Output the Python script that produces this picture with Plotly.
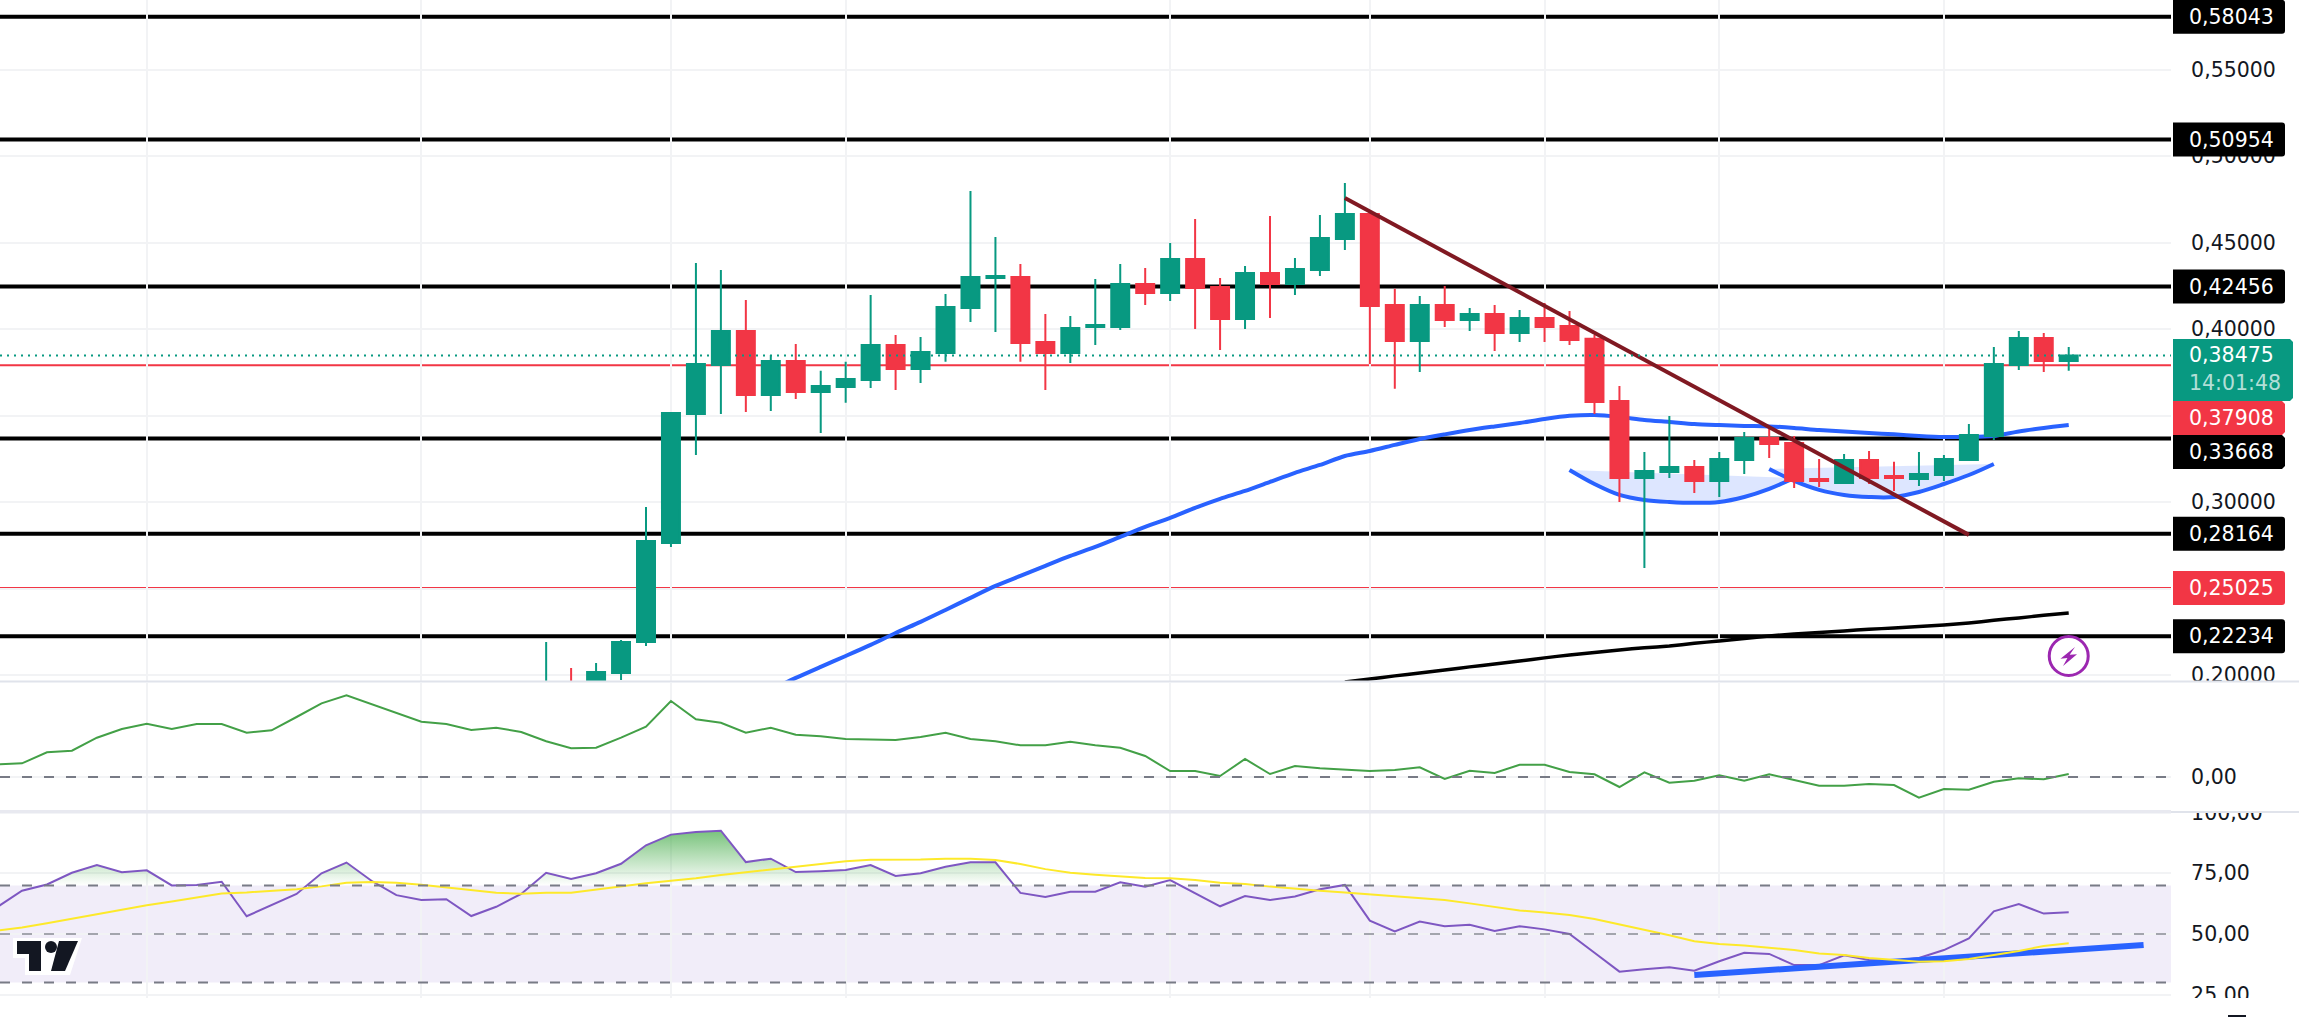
import plotly.graph_objects as go

# ---------- data ----------
first_candle = 21
opens = [.185,.195,.190,.2012,.2191,.2763,.3509,.3792,.3989,.3619,.3815,.3636,.3665,.3705,.3908,.3769,.3861,.4122,.4295,.4301,.3925,.3861,.4012,.4012,.4260,.4208,.4405,.4243,.4058,.4324,.4260,.4341,.4520,.4665,.4139,.3931,.4139,.4052,.4087,.3977,.4064,.4018,.3943,.3584,.3139,.3174,.3202,.3122,.3243,.3370,.3341,.3133,.3110,.3243,.3151,.3133,.3156,.3243,.3382,.3792,.3948,.3815]
highs = [.2191,.2041,.2070,.2203,.2971,.3515,.4382,.4341,.4168,.3850,.3914,.3758,.3810,.4197,.3966,.3954,.4202,.4798,.4532,.4376,.4087,.4075,.4289,.4376,.4353,.4497,.4636,.4295,.4364,.4653,.4411,.4659,.4844,.4665,.4232,.4191,.4249,.4122,.4139,.4110,.4151,.4104,.3966,.3671,.3289,.3497,.3243,.3289,.3405,.3422,.3382,.3249,.3278,.3295,.3232,.3289,.3272,.3451,.3896,.3988,.3977,.3896]
lows = [.180,.186,.188,.1971,.2168,.2740,.3272,.3509,.3520,.3526,.3596,.3399,.3573,.3659,.3648,.3688,.3810,.4041,.3983,.3810,.3648,.3804,.3908,.3994,.4139,.4162,.4000,.3879,.4000,.4064,.4197,.4307,.4457,.3798,.3654,.3752,.4012,.3989,.3873,.3925,.3925,.3908,.3509,.3000,.2619,.3139,.3052,.3029,.3162,.3254,.3081,.3087,.3110,.3104,.3064,.3093,.3122,.3243,.3359,.3763,.3752,.3758]
closes = [.192,.190,.2018,.2191,.2775,.3515,.3798,.3989,.3619,.3815,.3636,.3671,.3711,.3908,.3769,.3867,.4127,.4301,.4307,.3919,.3861,.4006,.4023,.4260,.4208,.4405,.4237,.4058,.4324,.4260,.4347,.4526,.4665,.4133,.3931,.4139,.4052,.4087,.3977,.4064,.4012,.3937,.3578,.3139,.3179,.3202,.3122,.3249,.3370,.3335,.3122,.3122,.3243,.3139,.3139,.3162,.3249,.3388,.3798,.3948,.3815,.38475]

ma_blue_first = 30
ma_blue = [.1914,.1983,.2047,.2110,.2174,.2243,.2307,.2376,.2446,.2515,.2573,.2631,.2688,.2740,.2798,.2856,.2908,.2966,.3018,.3064,.3116,.3168,.3214,.3266,.3295,.3330,.3364,.3391,.3416,.3437,.3457,.3480,.3498,.3503,.3492,.3474,.3463,.3451,.3445,.3440,.3437,.3428,.3416,.3408,.3399,.3391,.3382,.3376,.3376,.3382,.3408,.3428,.3445]
ma_black_first = 53
ma_black = [.1960,.1977,.1995,.2012,.2029,.2047,.2064,.2081,.2099,.2116,.2130,.2145,.2157,.2168,.2183,.2197,.2211,.2226,.2237,.2246,.2255,.2264,.2272,.2280,.2289,.2301,.2316,.2330,.2345,.2359]

arc1_first = 62
arc1 = [.3185,.3104,.3041,.3012,.3000,.2995,.3000,.3029,.3076,.3139]
arc2_first = 70
arc2 = [.3191,.3122,.3070,.3041,.3029,.3029,.3058,.3104,.3156,.3220]
trend_x = [53, 78]
trend_y = [.4757, .2810]

levels_black = [.58043, .50954, .42456, .33668, .28164, .22234]
levels_red = [.37908, .25025]
last_price = .38475
price_ticks = [.55, .50, .45, .40, .35, .30, .25, .20]
price_tick_text = ["0,55000", "0,50000", "0,45000", "0,40000", "0,35000", "0,30000", "0,25000", "0,20000"]
time_grid = [5, 16, 26, 33, 46, 54, 61, 68, 77]

osc_first = -1
osc = [.127,.137,.247,.263,.393,.48,.533,.48,.53,.53,.443,.467,.6,.737,.817,.73,.637,.553,.53,.47,.493,.45,.357,.287,.293,.393,.503,.76,.577,.543,.443,.493,.423,
       .407,.38,.377,.37,.4,.443,.38,.357,.317,.317,.353,.317,.293,.21,.06,.06,.01,.18,.03,.11,.087,.077,.06,.07,.097,-.02,.063,.04,.123,.123,.05,.027,
       -.1,.047,-.057,-.037,.017,-.037,.027,-.03,-.087,-.087,-.07,-.08,-.207,-.12,-.127,-.047,-.013,-.023,.03]
rsi = [61.0,67.8,70.4,75.2,78.4,75.4,76.2,70.0,70.2,71.5,57.3,61.9,66.5,75.0,79.4,71.9,66.0,64.0,64.3,57.4,61.2,66.5,75.2,72.6,75.0,78.9,86.5,90.9,92.0,92.5,79.6,81.0,75.5,
       75.8,76.3,78.4,73.9,75.0,77.7,79.5,79.5,66.9,65.2,67.4,67.4,71.3,69.5,72.2,66.7,61.4,65.6,64.0,65.4,68.4,70.2,55.5,51.1,55.1,53.2,53.8,51.2,53.2,51.9,50.0,42.3,
       34.5,35.5,36.3,34.9,38.8,42.3,41.8,37.2,37.2,41.2,39.3,39.0,40.1,43.4,48.2,59.3,62.3,58.4,58.9]
rsi_ma = [51.4,52.7,54.4,56.3,58.1,59.9,61.8,63.4,65.0,66.7,67.1,67.6,68.4,69.6,71.1,71.4,71.1,70.3,69.3,68.0,67.0,66.6,67.0,67.0,68.4,69.5,70.9,71.9,72.9,74.3,75.4,76.6,77.4,
          78.7,79.9,80.6,80.5,80.7,81.0,81.0,80.5,78.8,76.7,75.2,74.4,73.6,73.0,72.9,72.2,71.1,70.6,69.5,68.5,67.8,67.1,66.3,65.6,65.0,64.0,62.6,61.1,59.7,58.8,57.8,56.2,
          54.0,51.9,49.5,47.0,45.9,45.3,44.4,43.4,42.0,41.4,40.1,39.3,38.6,38.8,39.7,41.4,43.0,45.1,46.2]
rsi_trend_x = [67, 85]
rsi_trend_y = [33.1, 45.5]

# ---------- page geometry ----------
W, H, PLOT_W = 2299, 1017, 2171
STEP, X0 = 24.96, 22
MAIN = (0, 681.5)
OSC = (683, 810)
RSI = (812, 998)
GREEN, RED, BLUE = "#089981", "#F23645", "#2962FF"
INK, GRID = "#131722", "#F2F3F5"
FONT = "DejaVu Sans"
FS = 20.5

def px(x):
    return x / PLOT_W
def py(y):
    return 1 - y / H
def dom(p):
    return [py(p[1]), py(p[0])]
def seq(first, arr):
    return list(range(first, first + len(arr)))

x_range = [-X0 / STEP, (PLOT_W - X0) / STEP]
main_range = [0.2 + (675 - MAIN[1]) / 1730, 0.2 + 675 / 1730]
osc_range = [(777 - OSC[1]) / 100, (777 - OSC[0]) / 100]
rsi_range = [50 + (934 - RSI[1]) / 2.43, 50 + (934 - RSI[0]) / 2.43]

fig = go.Figure()

# moving averages and arcs sit behind the candles (main y axis)
fig.add_trace(go.Scatter(x=seq(ma_black_first, ma_black), y=ma_black, mode="lines", line=dict(color="#000000", width=3.5, shape="spline", smoothing=0.7)))
fig.add_trace(go.Scatter(x=seq(ma_blue_first, ma_blue), y=ma_blue, mode="lines", line=dict(color=BLUE, width=4, shape="spline", smoothing=0.7)))
for first, arc in ((arc1_first, arc1), (arc2_first, arc2)):
    fig.add_trace(go.Scatter(x=seq(first, arc), y=arc, mode="lines", fill="toself", fillcolor="rgba(41,98,255,0.16)",
                             line=dict(color=BLUE, width=4, shape="spline")))

# candles and trend line on an overlaying twin of the price axis
fig.add_trace(go.Candlestick(
    x=seq(first_candle, opens), open=opens, high=highs, low=lows, close=closes, yaxis="y4", whiskerwidth=0,
    increasing=dict(line=dict(color=GREEN, width=2), fillcolor=GREEN),
    decreasing=dict(line=dict(color=RED, width=2), fillcolor=RED)))
fig.add_trace(go.Scatter(x=trend_x, y=trend_y, yaxis="y4", mode="lines", line=dict(color="#801922", width=4)))

# oscillator pane
fig.add_trace(go.Scatter(x=seq(osc_first, osc), y=osc, xaxis="x2", yaxis="y2", mode="lines", line=dict(color="#43A047", width=2)))

# RSI pane: fill above 70 follows the line, with the crossings worked out from the data
fx, fy = [], []
for k, v in enumerate(rsi):
    xk = osc_first + k
    if k and (rsi[k - 1] - 70) * (v - 70) < 0:
        fx.append(xk - 1 + (70 - rsi[k - 1]) / (v - rsi[k - 1]))
        fy.append(70)
    fx.append(xk)
    fy.append(max(v, 70))
fig.add_trace(go.Scatter(x=fx + fx[::-1], y=fy + [70] * len(fy), xaxis="x3", yaxis="y3", mode="lines", fill="toself",
                         line=dict(width=0), fillgradient=dict(type="vertical", colorscale=[[0, "rgba(76,175,80,0)"], [1, "rgba(76,175,80,0.75)"]])))
fig.add_trace(go.Scatter(x=seq(osc_first, rsi), y=rsi, xaxis="x3", yaxis="y3", mode="lines", line=dict(color="#7E57C2", width=2)))
fig.add_trace(go.Scatter(x=rsi_trend_x, y=rsi_trend_y, xaxis="x3", yaxis="y3", mode="lines", line=dict(color=BLUE, width=6)))
fig.add_trace(go.Scatter(x=seq(osc_first, rsi_ma), y=rsi_ma, xaxis="x3", yaxis="y3", mode="lines", line=dict(color="#FDE92A", width=2)))

shapes, annos = [], []

def hline(y, color, width, dash="solid", yref="y", layer="below"):
    shapes.append(dict(type="line", xref="paper", yref=yref, x0=0, x1=1, y0=y, y1=y, layer=layer, line=dict(color=color, width=width, dash=dash)))

for lv in levels_black:
    hline(lv, "#000000", 4)
for lv in levels_red:
    hline(lv, RED, 2)
hline(last_price, GREEN, 2, dash="2px,5px", layer="above")

shapes.append(dict(type="rect", xref="paper", yref="y3", x0=0, x1=1, y0=30, y1=70, layer="below", line=dict(width=0), fillcolor="rgba(126,87,194,0.105)"))
DASH = "10px,12px"
hline(0, "#787B86", 2, DASH, "y2", "above")
hline(70, "#787B86", 2, DASH, "y3", "above")
hline(50, "rgba(120,123,134,0.65)", 2, DASH, "y3", "above")
hline(30, "#787B86", 2, DASH, "y3", "above")

def page_rect(x0, y0, x1, y1, color):
    shapes.append(dict(type="rect", xref="paper", yref="paper", x0=px(x0), x1=px(x1), y0=py(y0), y1=py(y1), layer="above", line=dict(width=0), fillcolor=color))
def page_poly(pts, color):
    path = "M " + " L ".join(f"{px(a)},{py(b)}" for a, b in pts) + " Z"
    shapes.append(dict(type="path", xref="paper", yref="paper", path=path, layer="above", line=dict(width=0), fillcolor=color))

# axis text is cut by the pane edges in the reference
page_rect(2172, 682, W, 692, "#FFFFFF")
page_rect(2172, 800, W, 813, "#FFFFFF")
page_rect(2172, 998, W, H, "#FFFFFF")
page_rect(0, 998, PLOT_W, H, "#FFFFFF")
page_rect(0, 680.5, W, 682.5, "#E0E3EB")
page_rect(0, 810, PLOT_W, 813.5, "#E8E9F0")
page_rect(PLOT_W, 811, W, 813, "#E0E3EB")
page_rect(2228, 1015, 2246, 1017, "#131722")

LABEL_X = 2186.5

def price_box(value, text, color, up=17, down=17, right=112):
    r = 3
    path = (f"M 0,{-down} L {right - r},{-down} Q {right},{-down} {right},{-down + r} "
            f"L {right},{up - r} Q {right},{up} {right - r},{up} L 0,{up} Z")
    shapes.append(dict(type="path", xref="paper", yref="y", xsizemode="pixel", ysizemode="pixel",
                       xanchor=px(2173), yanchor=value, path=path, layer="above", line=dict(width=0), fillcolor=color))
    annos.append(dict(xref="paper", yref="y", x=px(LABEL_X), y=value, xanchor="left", yanchor="middle",
                      text=text, showarrow=False, font=dict(family=FONT, size=FS, color="#FFFFFF")))

for lv, txt in zip(levels_black, ["0,58043", "0,50954", "0,42456"]):
    price_box(lv, txt, "#000000")
price_box(levels_black[4], "0,28164", "#000000")
price_box(levels_black[5], "0,22234", "#000000")
price_box(levels_red[1], "0,25025", RED)

def label_at(yc, y0, y1, text, color, right=2285):
    r = 3
    page_poly([(2173, y0), (right - r, y0), (right, y0 + r), (right, y1 - r), (right - r, y1), (2173, y1)], color)
    annos.append(dict(xref="paper", yref="paper", x=px(LABEL_X), y=py(yc), xanchor="left", yanchor="middle", text=text, showarrow=False,
                      font=dict(family=FONT, size=FS, color="#FFFFFF")))

label_at(355, 339, 401, "0,38475", GREEN, right=2293)
annos.append(dict(xref="paper", yref="paper", x=px(LABEL_X), y=py(383), xanchor="left", yanchor="middle", text="14:01:48", showarrow=False,
                  font=dict(family=FONT, size=FS, color="rgba(255,255,255,0.7)")))
label_at(418, 401, 435, "0,37908", RED)
label_at(452, 435, 469, "0,33668", "#000000")

# purple lightning badge at the last bar
shapes.append(dict(type="circle", xref="x", yref="paper", xsizemode="pixel", ysizemode="pixel", xanchor=82, yanchor=py(656),
                   x0=-19.5, x1=19.5, y0=-19.5, y1=19.5, layer="above", line=dict(color="#9C27B0", width=3), fillcolor="#FFFFFF"))
shapes.append(dict(type="path", xref="x", yref="paper", xsizemode="pixel", ysizemode="pixel", xanchor=82, yanchor=py(656),
                   path="M 6.3,9 L -8.3,-2.7 L -1.3,-2 L -5.7,-10 L 8.3,1.7 L 1,1.3 Z", layer="above", line=dict(width=0), fillcolor="#9C27B0"))

# watermark logo
page_poly([(13, 938), (82, 938), (70, 975), (25, 975), (25, 958), (13, 958)], "#FFFFFF")
page_poly([(17, 941), (41, 941), (41, 971), (29, 971), (29, 954), (17, 954)], INK)
page_poly([(59, 941), (78, 941), (65, 971), (51, 971)], INK)
shapes.append(dict(type="circle", xref="paper", yref="paper", x0=px(45), x1=px(57), y0=py(941), y1=py(953), layer="above", line=dict(width=0), fillcolor=INK))

common_x = dict(range=x_range, showticklabels=False, ticks="", tickmode="array", tickvals=time_grid, showgrid=True, gridcolor=GRID, gridwidth=2, zeroline=False, showline=False, domain=[0, 1])
common_y = dict(side="right", ticks="outside", ticklen=15, tickcolor="rgba(0,0,0,0)", tickfont=dict(family=FONT, size=FS, color=INK),
                showgrid=True, gridcolor=GRID, gridwidth=2, zeroline=False, showline=False, tickmode="array")

fig.update_layout(
    width=W, height=H, margin=dict(l=0, r=W - PLOT_W, t=0, b=0, autoexpand=False), paper_bgcolor="#FFFFFF", plot_bgcolor="#FFFFFF",
    showlegend=False, hovermode=False, dragmode=False, boxgap=0.1, boxgroupgap=0.2,
    xaxis=dict(common_x, anchor="y", rangeslider=dict(visible=False)),
    xaxis2=dict(common_x, anchor="y2", matches="x"),
    xaxis3=dict(common_x, anchor="y3", matches="x"),
    yaxis=dict(common_y, domain=dom(MAIN), anchor="x", range=main_range, tickvals=price_ticks, ticktext=price_tick_text),
    yaxis2=dict(common_y, domain=dom(OSC), anchor="x2", range=osc_range, tickvals=[0], ticktext=["0,00"]),
    yaxis3=dict(common_y, domain=dom(RSI), anchor="x3", range=rsi_range, tickvals=[25, 50, 75, 100], ticktext=["25,00", "50,00", "75,00", "100,00"]),
    yaxis4=dict(overlaying="y", matches="y", range=main_range, anchor="x", side="right", visible=False, showgrid=False),
    shapes=shapes, annotations=annos,
)

fig.write_html("out.html", config=dict(displayModeBar=False, staticPlot=True),
               post_script="document.body.style.margin='0';document.body.style.overflow='hidden';")
